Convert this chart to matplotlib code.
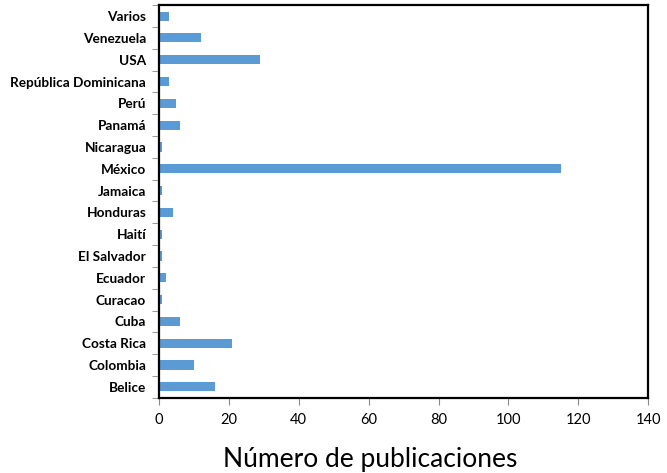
import numpy as np
import matplotlib.pyplot as plt

paises = ['Belice', 'Colombia', 'Costa Rica', 'Cuba', 'Curacao', 'Ecuador',
          'El Salvador', 'Haití', 'Honduras', 'Jamaica', 'México', 'Nicaragua',
          'Panamá', 'Perú', 'República Dominicana', 'USA', 'Venezuela', 'Varios']
publicaciones = [16, 10, 21, 6, 1, 2, 1, 1, 4, 1, 115, 1, 6, 5, 3, 29, 12, 3]

plt.rcParams['font.family'] = ['Lato', 'DejaVu Sans']

fig = plt.figure(figsize=(6.67, 4.73), dpi=100)
ax = fig.add_axes([0.238, 0.159, 0.734, 0.830])

y = np.arange(len(paises))
ax.barh(y, publicaciones, height=0.42, color='#5B9BD5')

ax.set_xlim(0, 140)
ax.set_ylim(-0.5, len(paises) - 0.5)
ax.set_xticks(np.arange(0, 141, 20))
ax.set_yticks(y)
ax.set_yticklabels(paises, fontweight='bold', fontsize=9.8)
ax.set_yticks(np.arange(-0.5, len(paises), 1), minor=True)
ax.tick_params(axis='y', which='major', length=0, pad=9)
ax.tick_params(axis='y', which='minor', length=5, color='#888888')
ax.tick_params(axis='x', length=5, color='#888888', labelsize=10.5, pad=6)

for s in ax.spines.values():
    s.set_linewidth(1.6)
    s.set_color('black')

ax.set_xlabel('Número de publicaciones', fontsize=19)
ax.xaxis.set_label_coords(0.432, -0.125)

fig.savefig('out.png', dpi=100)
